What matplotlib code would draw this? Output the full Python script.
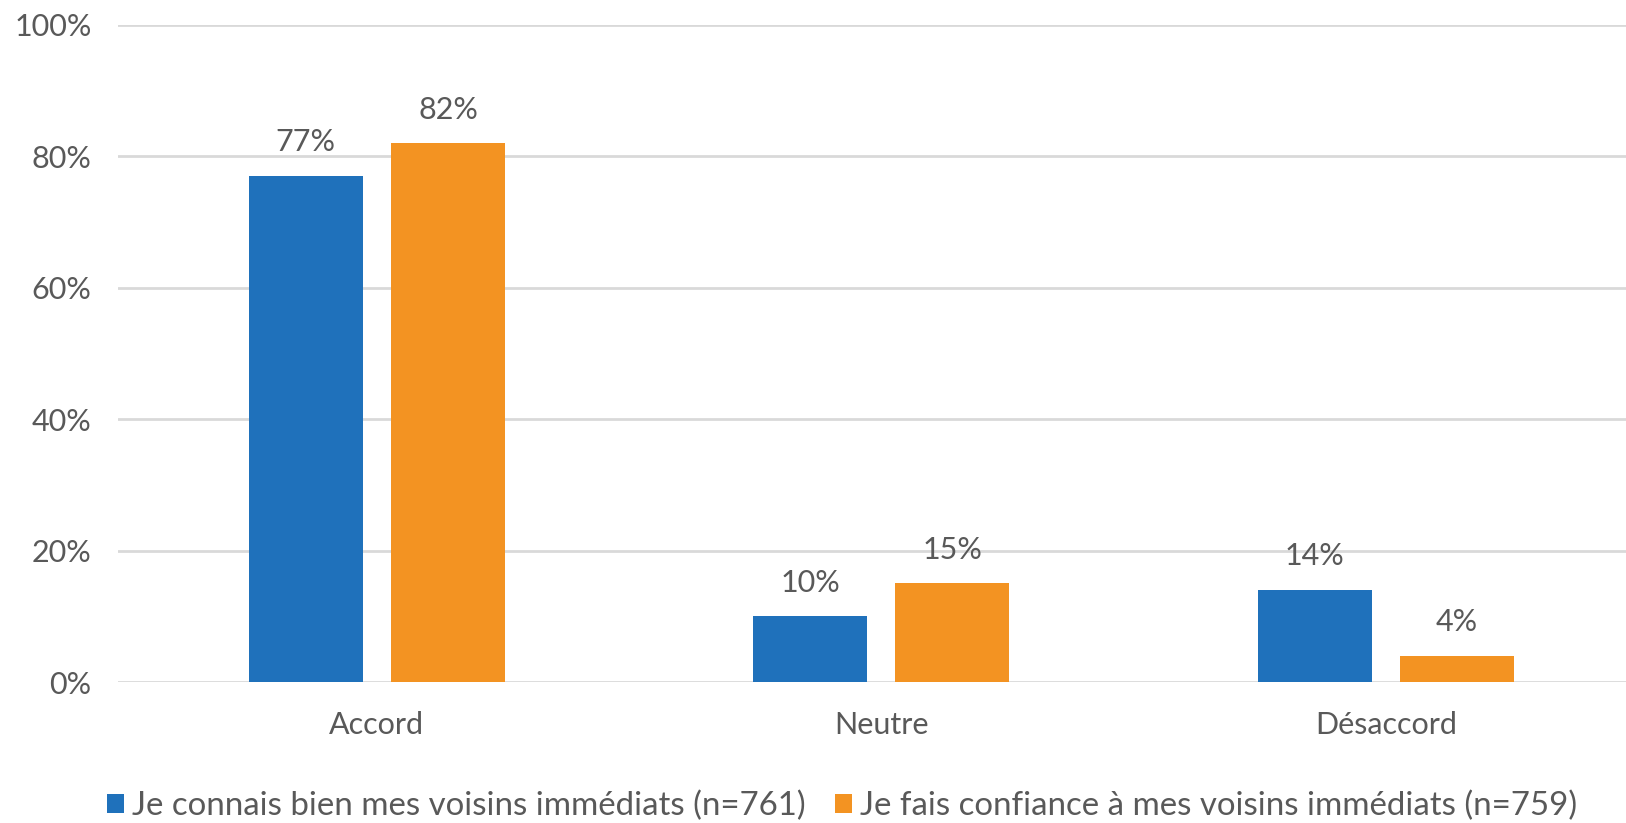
import matplotlib
matplotlib.use("Agg")
import matplotlib.pyplot as plt
import numpy as np

categories = ["Accord", "Neutre", "Désaccord"]
serie_connais = [77, 10, 14]
serie_confiance = [82, 15, 4]
labels = ["Je connais bien mes voisins immédiats (n=761)",
          "Je fais confiance à mes voisins immédiats (n=759)"]

plt.rcParams['font.family'] = ['Lato', 'DejaVu Sans']
gris = "#595959"

fig = plt.figure(figsize=(16.26, 8.23), dpi=100)
ax = fig.add_axes([118/1626, 1 - 682/823, 1 - 118/1626, (682 - 25)/823])

x = np.arange(len(categories))
w = 0.226
b1 = ax.bar(x - 0.141, serie_connais, w, color="#1F71BB", label=labels[0], zorder=3)
b2 = ax.bar(x + 0.141, serie_confiance, w, color="#F39322", label=labels[1], zorder=3)

for bars in (b1, b2):
    for r in bars:
        ax.text(r.get_x() + r.get_width()/2, r.get_height() + 3.0,
                f"{r.get_height():.0f}%", ha="center", va="bottom",
                fontsize=22, color=gris)

ax.set_xlim(-0.513, 2.476)
ax.set_ylim(0, 100)
ax.set_yticks([0, 20, 40, 60, 80, 100])
ax.set_yticklabels([f"{v}%" for v in [0, 20, 40, 60, 80, 100]])
ax.set_xticks(x)
ax.set_xticklabels(categories)
ax.tick_params(axis="both", length=0, labelsize=22, labelcolor=gris)
ax.tick_params(axis="y", pad=19)
ax.tick_params(axis="x", pad=21)
ax.grid(axis="y", color="#D9D9D9", linewidth=2, zorder=0)
for s in ax.spines.values():
    s.set_visible(False)

fig.legend(handles=[b1, b2], loc="center", bbox_to_anchor=(0.518, 1 - 806/823),
           ncol=2, frameon=False, fontsize=23.8, labelcolor=gris,
           handlelength=0.5, handleheight=0.5, handletextpad=0.25, columnspacing=0.9)

fig.savefig("out.png", dpi=100)
